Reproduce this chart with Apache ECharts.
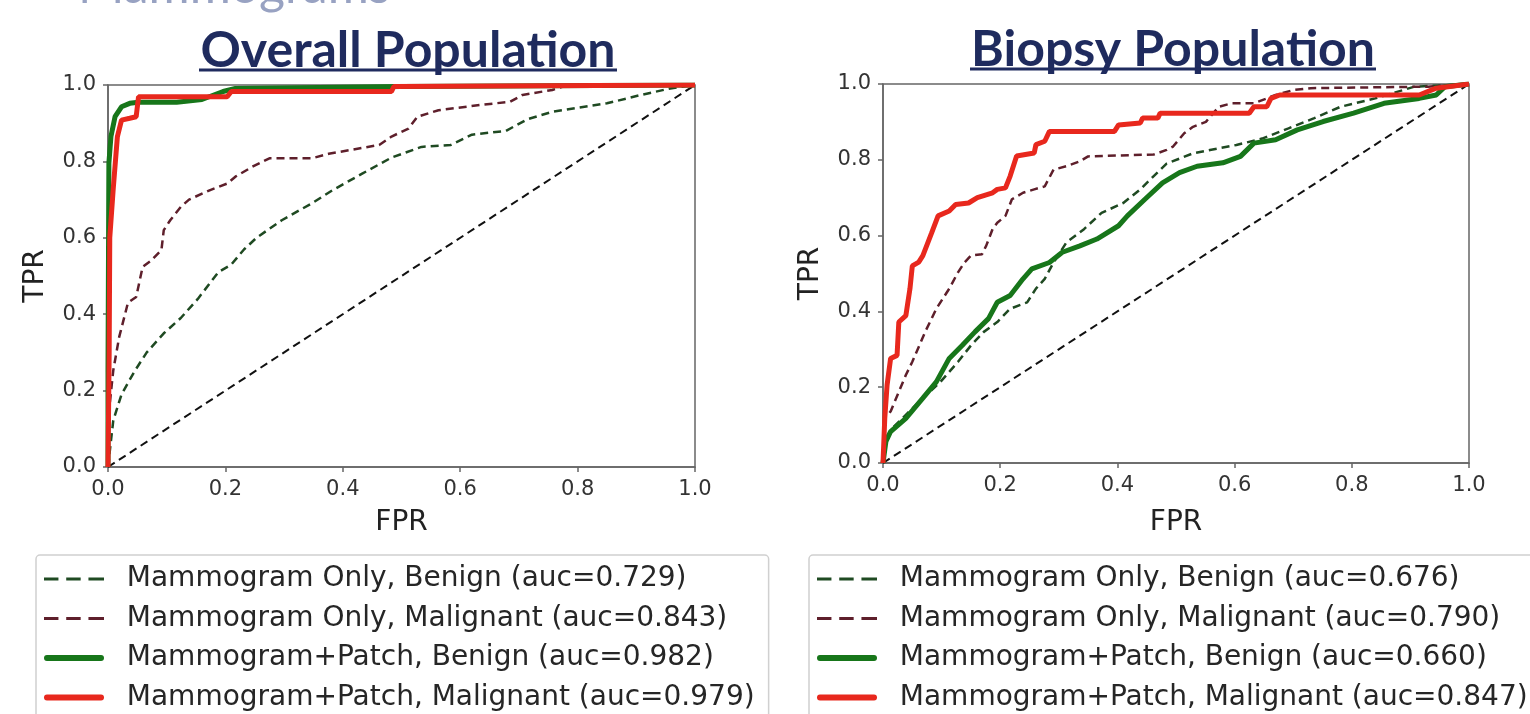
<!DOCTYPE html>
<html>
<head>
<meta charset="utf-8">
<script src="https://cdn.jsdelivr.net/npm/echarts@6/dist/echarts.min.js"></script>
<style>
html,body{margin:0;padding:0;background:#fff;}
#chart{width:1530px;height:714px;}
</style>
</head>
<body>
<div id="chart"></div>
<script>
// ---- tick labels ----
const xTicks = [0.0, 0.2, 0.4, 0.6, 0.8, 1.0];
const yTicks = [0.0, 0.2, 0.4, 0.6, 0.8, 1.0];

// ---- panel titles & legend labels ----
const panelTitles = ['Overall Population', 'Biopsy Population'];
const overallNames = [
  'Mammogram Only, Benign (auc=0.729)',
  'Mammogram Only, Malignant (auc=0.843)',
  'Mammogram+Patch, Benign (auc=0.982)',
  'Mammogram+Patch, Malignant (auc=0.979)'
];
const biopsyNames = [
  'Mammogram Only, Benign (auc=0.676)',
  'Mammogram Only, Malignant (auc=0.790)',
  'Mammogram+Patch, Benign (auc=0.660)',
  'Mammogram+Patch, Malignant (auc=0.847)'
];

// ---- chance diagonal ----
const chance = [[0, 0], [1, 1]];

// ---- Overall population ROC points [FPR, TPR] ----
const overallOnlyBenign = [[0,0],[0.009,0.122],[0.023,0.19],[0.045,0.25],[0.066,0.30],[0.095,0.35],[0.124,0.39],[0.153,0.44],[0.188,0.51],[0.21,0.53],[0.232,0.57],[0.253,0.60],[0.296,0.646],[0.347,0.69],[0.383,0.725],[0.433,0.768],[0.483,0.81],[0.534,0.838],[0.584,0.843],[0.62,0.87],[0.678,0.88],[0.714,0.91],[0.757,0.93],[0.80,0.94],[0.85,0.952],[0.908,0.974],[0.958,0.991],[1,1]];
const overallOnlyMalignant = [[0,0],[0.003,0.166],[0.009,0.253],[0.019,0.34],[0.034,0.43],[0.048,0.445],[0.059,0.524],[0.073,0.54],[0.091,0.568],[0.095,0.62],[0.106,0.646],[0.124,0.681],[0.138,0.70],[0.174,0.725],[0.203,0.742],[0.217,0.76],[0.246,0.786],[0.275,0.808],[0.347,0.808],[0.376,0.82],[0.462,0.843],[0.483,0.865],[0.512,0.886],[0.527,0.917],[0.563,0.934],[0.635,0.948],[0.685,0.956],[0.706,0.974],[0.757,0.987],[0.778,0.997],[1,1]];
const overallPatchBenign = [[0,0],[0,0.25],[0.0015,0.795],[0.005,0.865],[0.012,0.917],[0.023,0.943],[0.037,0.952],[0.052,0.955],[0.117,0.955],[0.16,0.962],[0.196,0.983],[0.217,0.991],[0.5,0.996],[1,1]];
const overallPatchMalignant = [[0,0],[0.002,0.30],[0.003,0.60],[0.009,0.73],[0.016,0.865],[0.023,0.908],[0.037,0.913],[0.048,0.917],[0.052,0.969],[0.203,0.969],[0.21,0.983],[0.483,0.983],[0.487,0.996],[1,1]];

// ---- Biopsy population ROC points [FPR, TPR] ----
const biopsyOnlyBenign = [[0,0],[0.005,0.066],[0.016,0.092],[0.039,0.127],[0.068,0.171],[0.098,0.214],[0.128,0.267],[0.15,0.31],[0.172,0.346],[0.195,0.372],[0.217,0.407],[0.246,0.424],[0.261,0.46],[0.276,0.486],[0.291,0.529],[0.313,0.582],[0.343,0.617],[0.373,0.66],[0.41,0.686],[0.439,0.722],[0.462,0.757],[0.484,0.79],[0.529,0.817],[0.558,0.826],[0.603,0.839],[0.647,0.856],[0.692,0.883],[0.736,0.91],[0.781,0.94],[0.84,0.962],[0.907,0.993],[1,1]];
const biopsyOnlyMalignant = [[0,0],[0.003,0.118],[0.013,0.136],[0.02,0.162],[0.039,0.232],[0.05,0.267],[0.072,0.346],[0.091,0.407],[0.113,0.46],[0.128,0.503],[0.139,0.529],[0.15,0.547],[0.169,0.551],[0.176,0.573],[0.187,0.617],[0.195,0.634],[0.209,0.652],[0.22,0.696],[0.239,0.713],[0.258,0.722],[0.276,0.73],[0.291,0.774],[0.313,0.783],[0.336,0.796],[0.35,0.809],[0.462,0.814],[0.484,0.826],[0.495,0.835],[0.514,0.87],[0.529,0.887],[0.551,0.90],[0.573,0.94],[0.595,0.949],[0.633,0.949],[0.67,0.971],[0.70,0.984],[0.73,0.989],[0.93,0.993],[1,1]];
const biopsyPatchBenign = [[0,0],[0.005,0.057],[0.013,0.083],[0.039,0.118],[0.068,0.171],[0.091,0.214],[0.113,0.276],[0.135,0.31],[0.157,0.346],[0.18,0.381],[0.195,0.424],[0.217,0.442],[0.239,0.486],[0.254,0.512],[0.284,0.529],[0.306,0.556],[0.336,0.573],[0.365,0.591],[0.402,0.626],[0.417,0.652],[0.447,0.696],[0.477,0.739],[0.506,0.766],[0.536,0.783],[0.58,0.792],[0.61,0.809],[0.633,0.844],[0.67,0.853],[0.707,0.879],[0.751,0.901],[0.803,0.923],[0.855,0.949],[0.915,0.962],[0.944,0.971],[0.959,0.993],[1,1]];
const biopsyPatchMalignant = [[0,0],[0.003,0.118],[0.007,0.206],[0.013,0.276],[0.024,0.284],[0.027,0.372],[0.039,0.389],[0.046,0.46],[0.05,0.52],[0.061,0.53],[0.068,0.547],[0.083,0.607],[0.094,0.652],[0.113,0.665],[0.124,0.682],[0.146,0.686],[0.161,0.70],[0.187,0.713],[0.195,0.722],[0.209,0.726],[0.217,0.757],[0.228,0.81],[0.258,0.818],[0.261,0.84],[0.276,0.849],[0.284,0.875],[0.395,0.875],[0.402,0.892],[0.439,0.897],[0.443,0.91],[0.469,0.91],[0.473,0.923],[0.625,0.923],[0.633,0.94],[0.655,0.94],[0.662,0.962],[0.677,0.971],[0.915,0.971],[0.944,0.989],[1,1]];

// ---- styling ----
const colOnlyBenign = '#1f4a22';
const colOnlyMalignant = '#5e1f2b';
const colPatchBenign = '#17761a';
const colPatchMalignant = '#e8281d';
const dash = [8, 5];
const tickFont = 'DejaVu Sans';
const dashIcon = 'path://M0,0h13v2.6h-13zM20,0h13v2.6h-13zM40,0h14v2.6h-14z';
const solidIcon = 'path://M3,0h55a3,3 0 0 1 0,6h-55a3,3 0 0 1 0,-6z';

const grids = [
  {left: 108, top: 85, width: 587, height: 382},
  {left: 883, top: 84, width: 586, height: 379}
];

function makeX(i, gap){
  return {
    type: 'value', gridIndex: i, min: 0, max: 1, interval: 0.2,
    name: 'FPR', nameLocation: 'middle', nameGap: gap,
    nameTextStyle: {fontSize: 28, fontFamily: tickFont, color: '#222'},
    axisLine: {show: true, lineStyle: {color: '#666', width: 1.5}},
    axisTick: {show: true, length: 5, lineStyle: {color: '#666', width: 1.5}},
    splitLine: {show: false},
    axisLabel: {formatter: v => v.toFixed(1), fontSize: 21, fontFamily: tickFont, color: '#333', margin: 12,
      customValues: xTicks}
  };
}
function makeY(i){
  return {
    type: 'value', gridIndex: i, min: 0, max: 1, interval: 0.2,
    name: 'TPR', nameLocation: 'middle', nameGap: 58, nameRotate: 90,
    nameTextStyle: {fontSize: 28, fontFamily: tickFont, color: '#222'},
    axisLine: {show: true, lineStyle: {color: '#666', width: 1.5}},
    axisTick: {show: true, length: 5, lineStyle: {color: '#666', width: 1.5}},
    splitLine: {show: false},
    axisLabel: {formatter: v => v.toFixed(1), fontSize: 21, fontFamily: tickFont, color: '#333', margin: 12,
      customValues: yTicks}
  };
}

function lineSeries(name, data, idx, color, width, dashed, z){
  return {
    type: 'line', name: name, data: data, xAxisIndex: idx, yAxisIndex: idx,
    showSymbol: false, symbol: 'none', smooth: false, z: z,
    lineStyle: {color: color, width: width, type: dashed ? dash : 'solid'},
    itemStyle: {color: color},
    emphasis: {disabled: true}
  };
}

const series = [];
[[overallNames, [overallOnlyBenign, overallOnlyMalignant, overallPatchBenign, overallPatchMalignant]],
 [biopsyNames, [biopsyOnlyBenign, biopsyOnlyMalignant, biopsyPatchBenign, biopsyPatchMalignant]]]
.forEach(([names, sets], i) => {
  series.push(lineSeries('chance' + i, chance, i, '#111', 2, true, 2));
  series.push(lineSeries(names[0], sets[0], i, colOnlyBenign, 2.5, true, 3));
  series.push(lineSeries(names[1], sets[1], i, colOnlyMalignant, 2.5, true, 4));
  series.push(lineSeries(names[2], sets[2], i, colPatchBenign, 5, false, 5));
  series.push(lineSeries(names[3], sets[3], i, colPatchMalignant, 5, false, 6));
});

function makeLegend(names, left, padRight){
  return {
    orient: 'vertical', left: left, top: 555, height: 220,
    data: names.map((n, k) => ({name: n, icon: k < 2 ? dashIcon : solidIcon})),
    symbolKeepAspect: true,
    itemWidth: 60, itemHeight: 14, itemGap: 9.5,
    formatter: n => '  ' + n,
    textStyle: {fontSize: 28, fontFamily: tickFont, color: '#262626', lineHeight: 30},
    borderColor: '#d0d0d0', borderWidth: 1.5, borderRadius: 4,
    padding: [9, padRight, 14, 8],
    selectedMode: false
  };
}

const option = {
  animation: false,
  backgroundColor: '#ffffff',
  grid: grids.map(g => Object.assign({show: true, borderColor: '#666', borderWidth: 1.5, backgroundColor: 'transparent'}, g)),
  xAxis: [makeX(0, 42), makeX(1, 46)],
  yAxis: [makeY(0), makeY(1)],
  legend: [makeLegend(overallNames, 36, 14), makeLegend(biopsyNames, 809, 80)],
  series: series,
  graphic: [
    {type: 'text', x: 78, y: 12, silent: true,
      style: {text: 'Mammograms', font: '50px Lato', fill: '#98a2c2', textAlign: 'left', textVerticalAlign: 'bottom'}},
    {type: 'text', x: 408, y: 51, silent: true,
      style: {text: panelTitles[0], font: 'bold 50px Lato', fill: '#1f2b5e', textAlign: 'center', textVerticalAlign: 'middle'}},
    {type: 'rect', silent: true, shape: {x: 199, y: 68.5, width: 418, height: 3}, style: {fill: '#1f2b5e'}},
    {type: 'text', x: 1173, y: 50, silent: true,
      style: {text: panelTitles[1], font: 'bold 50px Lato', fill: '#1f2b5e', textAlign: 'center', textVerticalAlign: 'middle'}},
    {type: 'rect', silent: true, shape: {x: 970, y: 67.5, width: 406, height: 3}, style: {fill: '#1f2b5e'}}
  ]
};

const chart = echarts.init(document.getElementById('chart'), null, {renderer: 'canvas'});
chart.setOption(option);
</script>
</body>
</html>
